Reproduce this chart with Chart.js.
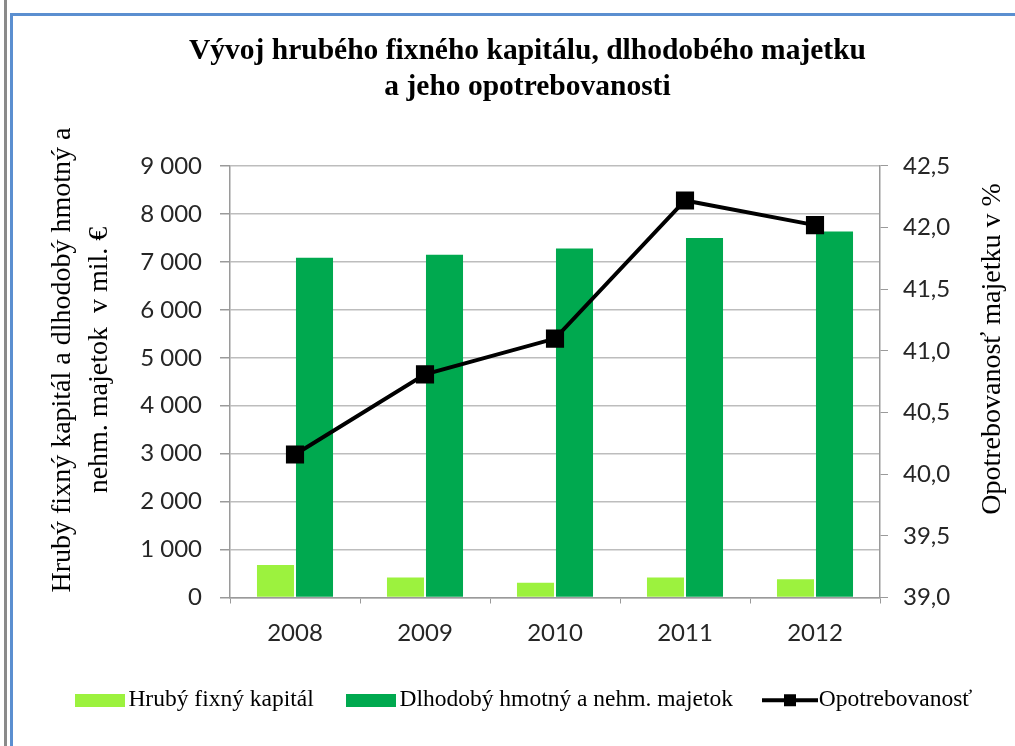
<!DOCTYPE html>
<html>
<head>
<meta charset="utf-8">
<script src="https://cdn.jsdelivr.net/npm/chart.js@4"></script>
<style>
    html, body {margin: 0; padding: 0; background: #fff;}
    #wrap {position: relative; width: 1015px; height: 746px; overflow: hidden;}
    .edge-gray {position: absolute; left: 4px; top: 0; width: 3px; height: 746px; background: #8a8a8a;}
    .edge-blue-v {position: absolute; left: 10px; top: 13px; width: 3px; height: 733px; background: #5b8fd0;}
    .edge-blue-h {position: absolute; left: 10px; top: 13px; width: 1005px; height: 3px; background: #5b8fd0;}
    #chart {position: absolute; left: 0; top: 0;}
</style>
</head>
<body>
<div id="wrap">
    <div class="edge-gray"></div>
    <div class="edge-blue-v"></div>
    <div class="edge-blue-h"></div>
    <canvas id="chart" width="1015" height="746"></canvas>
</div>
<script>
    const years = ["2008", "2009", "2010", "2011", "2012"];
    const hrubyFixnyKapital = [676, 419, 306, 419, 383];
    const dlhodobyMajetok = [7085, 7150, 7280, 7497, 7636];
    const opotrebovanost = [40.16, 40.81, 41.10, 42.22, 42.02];

    const chartTitle = ["Vývoj hrubého fixného kapitálu, dlhodobého majetku", "a jeho opotrebovanosti"];
    const leftTitle = ["Hrubý fixný kapitál a dlhodobý hmotný a", "nehm. majetok  v mil. €"];
    const rightTitle = "Opotrebovanosť majetku v %";
    const legendNames = ["Hrubý fixný kapitál", "Dlhodobý hmotný a nehm. majetok", "Opotrebovanosť"];

    const colors = {light: "#9cf23e", dark: "#00a94f", line: "#000000", grid: "#bdbdbd", axis: "#9a9a9a", text: "#262626"};
    const tickFont = {family: "Lato", size: 24};
    const serif = "'Liberation Serif', 'Times New Roman', serif";

    const fmtThousands = v => String(v).replace(/\B(?=(\d{3})+(?!\d))/g, " ");
    const fmtPct = v => v.toFixed(1).replace(".", ",");

    // legend icons as small canvases
    const boxIcon = color => {
        const c = document.createElement("canvas");
        c.width = 50; c.height = 13;
        const g = c.getContext("2d");
        g.fillStyle = color;
        g.fillRect(0, 0, 50, 13);
        return c;
    };
    const lineIcon = () => {
        const c = document.createElement("canvas");
        c.width = 56; c.height = 14;
        const g = c.getContext("2d");
        g.fillStyle = colors.line;
        g.fillRect(0, 5, 56, 4);
        g.fillRect(22, 1, 12, 12);
        return c;
    };
    const legendIcons = [boxIcon(colors.light), boxIcon(colors.dark), lineIcon()];

    // both axis titles read bottom-to-top, so draw them here
    const axisTitles = {
        id: "axisTitles",
        afterDraw(chart) {
            const ctx = chart.ctx;
            ctx.save();
            ctx.fillStyle = "#000";
            ctx.font = "28px " + serif;
            ctx.textAlign = "center";
            ctx.textBaseline = "middle";
            const draw = (text, x, y) => {
                ctx.save();
                ctx.translate(x, y);
                ctx.rotate(-Math.PI / 2);
                ctx.fillText(text, 0, 0);
                ctx.restore();
            };
            draw(leftTitle[0], 63, 360);
            draw(leftTitle[1], 100, 360);
            draw(rightTitle, 993, 349);
            ctx.restore();
        }
    };

    new Chart(document.getElementById("chart"), {
        data: {
            labels: years,
            datasets: [
                {
                    type: "line",
                    label: legendNames[2],
                    data: opotrebovanost,
                    yAxisID: "y1",
                    borderColor: colors.line,
                    backgroundColor: colors.line,
                    borderWidth: 4,
                    pointStyle: "rect",
                    pointRadius: 10,
                    pointHoverRadius: 10,
                    tension: 0,
                    order: 0
                },
                {
                    type: "bar",
                    label: legendNames[0],
                    data: hrubyFixnyKapital,
                    yAxisID: "y",
                    backgroundColor: colors.light,
                    order: 1
                },
                {
                    type: "bar",
                    label: legendNames[1],
                    data: dlhodobyMajetok,
                    yAxisID: "y",
                    backgroundColor: colors.dark,
                    order: 1
                }
            ]
        },
        options: {
            responsive: false,
            animation: false,
            datasets: {bar: {categoryPercentage: 0.6, barPercentage: 0.95}},
            layout: {padding: {left: 40, right: 0, top: 14, bottom: 24}},
            plugins: {
                title: {
                    display: true,
                    text: chartTitle,
                    color: "#000",
                    font: {family: serif, size: 29.5, weight: "bold", lineHeight: 1.22},
                    padding: {top: 19, bottom: 61}
                },
                legend: {
                    position: "bottom",
                    labels: {
                        color: "#000",
                        font: {family: serif, size: 23.5},
                        usePointStyle: true,
                        pointStyleWidth: 34,
                        padding: 40,
                        sort: (a, b) => [1, 2, 0].indexOf(a.datasetIndex) - [1, 2, 0].indexOf(b.datasetIndex),
                        generateLabels: chart => {
                            const items = Chart.defaults.plugins.legend.labels.generateLabels(chart);
                            const iconFor = [2, 0, 1];
                            items.forEach(it => it.pointStyle = legendIcons[iconFor[it.datasetIndex]]);
                            return items;
                        }
                    }
                },
                tooltip: {enabled: false}
            },
            scales: {
                x: {
                    grid: {display: true, drawOnChartArea: false, drawTicks: true, tickLength: 6, color: colors.axis, offset: true},
                    border: {color: colors.axis, width: 1.5},
                    ticks: {color: colors.text, font: tickFont, padding: 15},
                    afterFit: s => { s.height = 51; }
                },
                y: {
                    position: "left",
                    min: 0,
                    max: 9000,
                    ticks: {stepSize: 1000, color: colors.text, font: tickFont, padding: 18, callback: v => fmtThousands(v)},
                    grid: {color: colors.grid, lineWidth: 1.5, tickLength: 10, tickColor: colors.axis},
                    border: {color: colors.axis, width: 1.5},
                    afterFit: s => { s.width = 190; }
                },
                y1: {
                    position: "right",
                    min: 39,
                    max: 42.5,
                    ticks: {stepSize: 0.5, color: colors.text, font: tickFont, padding: 15, callback: v => fmtPct(v)},
                    grid: {drawOnChartArea: false, tickLength: 8, color: colors.axis},
                    border: {color: colors.axis, width: 1.5},
                    afterFit: s => { s.width = 135; }
                }
            }
        },
        plugins: [axisTitles]
    });
</script>
</body>
</html>
